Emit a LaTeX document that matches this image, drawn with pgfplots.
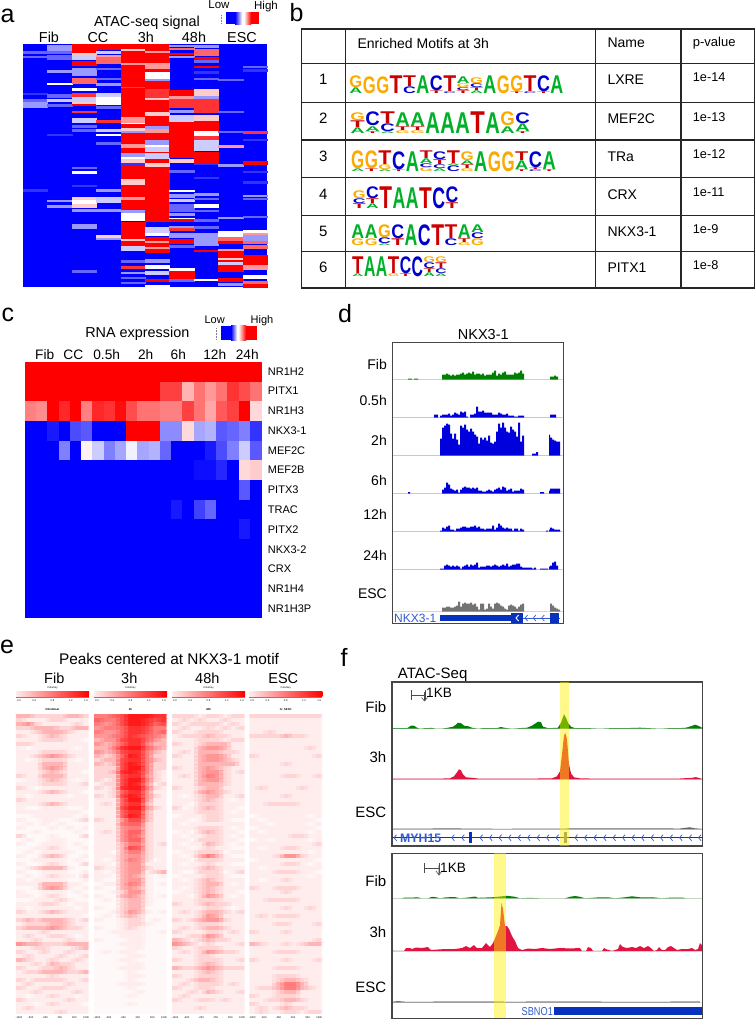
\documentclass[border=0pt]{standalone}
\usepackage{graphicx}
\usepackage{fontspec}
\setmainfont{Liberation Sans}
\usepackage{pgfplots}
\usepackage{pgfplotstable}
\pgfplotsset{compat=1.18}
\definecolor{colA}{RGB}{0,176,40}
\definecolor{colC}{RGB}{0,0,205}
\definecolor{colG}{RGB}{250,170,0}
\definecolor{colT}{RGB}{205,0,0}
\definecolor{genelbl}{RGB}{50,90,205}
\definecolor{genebar}{RGB}{8,50,190}
\definecolor{frame}{RGB}{70,70,70}
\definecolor{trackred}{RGB}{225,20,65}
\definecolor{trackgreen}{RGB}{0,128,0}
\definecolor{trackblue}{RGB}{0,0,220}
\pgfdeclareplotmark{cell}{\pgfpathrectangle{\pgfpoint{-\cw pt}{-\ch pt}}{\pgfpoint{2*\cw pt}{2*\ch pt}}\pgfusepathqfillstroke}
\pgfdeclareplotmark{chev}{\pgfpathmoveto{\pgfpoint{2.6pt}{3pt}}\pgfpathlineto{\pgfpoint{0pt}{0pt}}\pgfpathlineto{\pgfpoint{2.6pt}{-3pt}}\pgfusepathqstroke}
\pgfplotsset{
 colormap={bwr}{rgb255=(0,0,255) rgb255=(255,255,255) rgb255=(255,0,0)},
 colormap={wr}{rgb255(0)=(255,248,248) rgb255(1)=(255,236,236) rgb255(2)=(255,212,212) rgb255(4)=(255,150,150) rgb255(10)=(255,0,0)},
 pane/.style n args={4}{x=1pt,y=1pt,xmin=#1,xmax=#2,ymin=#3,ymax=#4,y dir=reverse,anchor=north west,at={(#1pt,-#3pt)},ticks=none},
 noframe/.style={axis line style={draw=none}},
 cellplot/.style 2 args={scatter,only marks,mark=cell,point meta=explicit,forget plot,
   visualization depends on={value #1 \as \cw},visualization depends on={value #2 \as \ch},
   scatter/use mapped color={draw=mapped color,fill=mapped color,line width=0.12pt}},
 softcell/.style={scatter/use mapped color={draw=mapped color,fill=mapped color,line width=0.1pt,opacity=.5}},
}
\newcommand{\Tx}[5][center]{\node[inner sep=0pt,anchor=#1,text depth=0pt,font=\fontsize{#4}{#4}\selectfont] at (#2pt,-#3pt) {#5};}
\newcommand{\TrackAxis}[6]{%
 \begin{axis}[x=1pt,y=1pt,xmin=#1,xmax=#2,ymin=0,ymax=#4,anchor=south west,at={(#1pt,-#3pt)},hide axis]
 \addplot[gray!22,line width=1.2pt,forget plot] coordinates {(#1,0)(#2,0)};
 \addplot[#5,draw=none,forget plot] #6 \closedcycle;
 \end{axis}}
\newcommand{\Logo}[4]{%
 \foreach \col [count=\ci from 0] in {#4}{%
  \gdef\stk{0}%
  \foreach \ltr/\hgt in \col {%
   \pgfmathsetmacro{\xx}{#1+\ci*#3+.25}\pgfmathsetmacro{\yy}{#2-\stk-.15}\pgfmathsetmacro{\ww}{#3-.5}\pgfmathsetmacro{\hh}{\hgt-.3}%
   \node[anchor=south west,inner sep=0pt,text=col\ltr] at (\xx pt,-\yy pt) {\resizebox{\ww pt}{\hh pt}{\bfseries \ltr}};
   \pgfmathsetmacro{\tmp}{\stk+\hgt}\xdef\stk{\tmp}%
  }}}
\newcommand{\EPanel}[2]{%
 \begin{axis}[pane={#1}{#1+73}{713.3}{1013.3},xmax=#1+73,noframe,clip marker paths=true,colormap name=wr,point meta min=0,point meta max=10]
 \pgfplotsinvokeforeach{0,...,8}{\addplot[cellplot={4.06}{1.72}] table[x expr={#1+(##1+.5)*8.11-2},y expr={713.3+(\coordindex+.5)*4},meta index=##1]{#2};}
 \pgfplotsinvokeforeach{0,...,8}{\addplot[cellplot={4.06}{1.72},softcell] table[x expr={#1+(##1+.5)*8.11+2.05},y expr={713.3+(\coordindex+.5)*4},meta index=##1]{#2};}
 \end{axis}
 \shade[left color=red!8,right color=red] (#1pt,-691.7pt) rectangle (#1pt+73pt,-696.3pt);
 \draw[gray,line width=.3pt] (#1pt,-697pt) -- (#1pt+73pt,-697pt);
 \foreach \k/\lab in {3/0.0,18.25/0.4,36.5/0.8,54.75/1.2,70/1.6}{\node[inner sep=0pt,font=\fontsize{2.6}{2.6}\selectfont] at (#1pt+\k pt,-700.7pt) {\lab};}
 \foreach \k/\lab in {3/-1000,14.6/-500,29.2/-250,43.8/250,58.4/500,70/1000}{\node[inner sep=0pt,font=\fontsize{2.6}{2.6}\selectfont] at (#1pt+\k pt,-1017.5pt) {\lab};}
 \node[inner sep=0pt,font=\fontsize{2.6}{2.6}\selectfont] at (#1pt+36.5pt,-688pt) {Colorkey};}

% ---------- panel a: stripes (column, top, bottom, level) in 1/3 px
\pgfplotstableread{
c y0 y1 v
0 153 158 2
0 168 172 2
0 278 282 1
0 296 302 2
0 305 320 3
0 568 572 1
1 134 150 3
1 154 160 2
1 165 178 2
1 210 215 3
1 248 253 5
1 283 292 2
1 297 303 4
1 312 318 2
1 402 405 1
1 600 604 3
1 616 621 3
2 132 155 10
2 158 165 6
2 165 178 4
2 184 196 10
2 205 225 3
2 233 248 8
2 263 269 5
2 278 288 9
2 290 305 4
2 305 311 6
2 311 316 10
2 332 336 9
2 355 366 4
2 376 380 2
2 388 392 2
2 500 504 2
2 514 520 5
2 556 559 1
2 590 600 6
2 600 612 5
2 612 620 6
2 626 632 3
2 672 683 3
2 810 815 2
3 132 148 10
3 152 158 4
3 165 172 7
3 172 190 8
3 204 208 2
3 234 238 2
3 248 254 3
3 278 290 4
3 290 312 5
3 318 325 2
3 361 365 9
3 386 392 4
3 402 406 5
3 427 431 2
3 568 572 3
3 590 605 4
3 626 632 3
3 705 710 6
3 714 717 3
4 132 262 10
4 147 151 6
4 188 193 7
4 260 265 2
4 265 350 10
4 350 370 7
4 370 373 5
4 373 385 10
4 385 392 6
4 392 400 3
4 400 458 10
4 432 440 7
4 458 470 3
4 470 478 5
4 478 490 6
4 490 494 1
4 494 540 10
4 538 555 6
4 555 630 10
4 592 597 7
4 630 640 3
4 640 660 5
4 665 716 10
4 716 722 6
4 722 738 10
4 738 750 4
4 781 785 2
4 797 803 9
4 815 820 3
4 830 834 2
4 845 849 2
5 132 152 10
5 154 158 7
5 158 190 10
5 190 207 7
5 207 215 10
5 215 235 5
5 236 244 3
5 244 268 10
5 268 295 9
5 295 300 6
5 300 335 10
5 337 347 6
5 347 378 10
5 378 386 3
5 388 400 7
5 400 420 10
5 420 436 3
5 436 442 5
5 442 456 4
5 456 460 10
5 460 478 4
5 478 488 10
5 488 500 6
5 500 664 10
5 680 696 4
5 698 704 5
5 710 755 10
5 722 726 7
5 740 744 7
5 778 786 3
5 796 804 5
5 812 822 4
5 838 844 10
5 856 860 5
6 134 137 3
6 144 148 8
6 158 163 10
6 168 172 3
6 270 286 10
6 288 296 7
6 296 322 9
6 330 336 3
6 344 362 4
6 366 398 10
6 402 470 10
6 476 486 6
6 510 516 2
6 569 573 5
6 582 590 3
6 597 604 4
6 612 632 2
6 638 644 3
6 654 658 5
6 658 664 10
6 678 684 3
6 685 690 9
6 700 712 3
6 718 728 10
6 735 740 2
6 805 812 5
6 814 836 10
6 838 842 2
7 136 140 3
7 146 166 8
7 171 176 10
7 180 186 2
7 197 201 10
7 214 218 1
7 234 238 2
7 268 286 6
7 288 294 3
7 298 335 9
7 344 362 6
7 364 394 10
7 394 406 5
7 408 418 9
7 420 450 4
7 456 486 10
7 488 492 1
7 530 534 1
7 580 586 3
7 594 598 2
7 612 620 5
7 630 634 2
7 658 663 2
7 678 684 2
7 700 735 3
7 750 754 10
7 836 841 5
8 238 241 2
8 332 335 2
8 394 397 2
8 436 441 7
8 492 497 3
8 650 653 3
8 694 708 5
8 710 724 8
8 724 730 10
8 746 752 7
8 754 774 10
8 774 780 6
8 780 786 10
8 786 794 4
8 794 812 10
8 834 842 10
8 850 856 3
9 197 200 2
9 208 212 1
9 392 400 9
9 416 419 1
9 484 491 10
9 514 517 1
9 544 548 1
9 584 588 3
9 595 598 2
9 648 652 2
9 690 698 5
9 698 704 7
9 704 720 3
9 722 730 8
9 736 744 8
9 764 796 10
9 796 808 7
9 826 834 5
9 842 850 8
9 852 860 10
}\atab

% ---------- panel c: 13 genes x 21 samples, -1 blue .. 1 red
\pgfplotstableread[header=false]{
1 1 1 1 1 1 1 1 1 1 1 1 1 1 1 1 1 1 1 1 1
1 1 1 1 1 1 1 1 1 1 1 1 .75 .75 .3 .55 .4 .55 .8 .7 .55
.5 .45 1 .85 1 .5 .85 .8 .95 .7 .55 .55 .5 .5 .75 .55 .35 .65 .75 1 .15
-1 -1 -.9 -1 -.7 -.65 -1 -1 -1 1 1 1 -.45 -.45 .15 -.35 -.3 -.65 -.6 -.5 -.8
-1 -1 -1 -.5 -1 .05 -.2 -.5 -.35 -.05 -.35 -.3 -.6 -1 -1 -1 -.9 -.7 -.5 -.2 -.65
-1 -1 -1 -1 -1 -1 -1 -1 -1 -1 -1 -1 -1 -1 -1 -.95 -.95 -.85 -1 .15 .2
-1 -1 -1 -1 -1 -1 -1 -1 -1 -1 -1 -1 -1 -1 -1 -1 -1 -1 -1 -.65 -1
-1 -1 -1 -1 -1 -1 -1 -1 -1 -1 -1 -1 -1 -.9 -1 -.75 -.6 -1 -1 -1 -1
-1 -1 -1 -1 -1 -1 -1 -1 -1 -1 -1 -1 -1 -1 -1 -1 -1 -1 -1 -.9 -1
-1 -1 -1 -1 -1 -1 -1 -1 -1 -1 -1 -1 -1 -1 -1 -1 -1 -1 -1 -1 -1
-1 -1 -1 -1 -1 -1 -1 -1 -1 -1 -1 -1 -1 -1 -1 -1 -1 -1 -1 -1 -1
-1 -1 -1 -1 -1 -1 -1 -1 -1 -1 -1 -1 -1 -1 -1 -1 -1 -1 -1 -1 -1
-1 -1 -1 -1 -1 -1 -1 -1 -1 -1 -1 -1 -1 -1 -1 -1 -1 -1 -1 -1 -1
}\ctab

% ---------- panel d: signal heights per track
\pgfplotstableread{
x fib h05 h2 h6 h12 h24 esc
392 0 0 0 0 0 0 0
406 0 0 0 0 0 0 0
408 1 0 0 1.5 0 0 0
410 1 0 0 0 0 0 0
412 0 0 0 0 0 0 0
414 1 0 0 0 0 0 0
416 1 0 0 0 0 0 0
418 0 0 0 0 0 0 0
434 0 3 0 0 0 0 0
436 0 3 0 0 0 0 0
438 0 0 0 0 0 0 0
440 0 2 17 0 1 1 0
442 5 3 28 4 4 1 4
444 5 3 30 6 3 4 4
446 6 3 32 11 5 5 5
448 5 4 31 9 6 4 5
450 4 2 22 5 2 3 4
452 5 3 17 4 2 4 4
454 4 5 22 3 1 3 5
456 5 4 16 4 3 4 6
458 5 3 11 1 3 3 10
460 6 6 30 4 4 1 5
462 7 5 28 6 5 3 8
464 5 6 31 7 5 4 9
466 6 1 26 6 4 5 8
468 7 0 24 6 4 3 8
470 6 3 27 5 5 5 9
472 8 3 24 6 5 4 7
474 5 4 21 5 6 5 8
476 6 11 19 6 4 7 5
478 6 6 12 3 5 2 2
480 5 6 18 3 3 3 8
482 6 7 16 2 3 3 8
484 4 5 18 2 2 3 2
486 5 5 15 3 3 4 3
488 5 5 20 4 3 4 8
490 5 5 13 3 3 3 5
492 7 3 12 2 6 4 3
494 9 3 14 4 2 5 8
496 4 3 24 5 4 4 9
498 6 5 32 6 8 3 8
500 5 4 28 4 6 4 6
502 7 3 33 7 4 5 5
504 8 3 28 6 3 4 3
506 5 4 24 3 4 6 2
508 5 2 23 4 3 3 6
510 5 2 29 5 3 4 7
512 5 2 26 2 1 5 6
514 7 1 24 3 3 5 5
516 6 1 19 3 3 6 3
518 7 2 33 3 1 6 5
520 9 2 14 5 3 3 7
522 6 2 20 4 2 2 8
524 0 0 0 0 0 2 0
530 0 0 0 0 0 2 0
532 0 0 2 0 0 1 0
534 0 0 2 0 0 2 0
536 0 0 3.5 0 0 0 0
538 0 0 0 0 0 0 0
540 0 0 0 1.5 0 1 0
544 0 0 0 0 0 1 0
546 0 0 0 0 1 1 0
548 0 0 0 0 0 0 0
549 0 0 21 3 2 3 0
550 3 3 18 5 4 4 8
552 3 3 16 5 3 7 6
554 4 3 15 5 2 8 4
556 3 0 14 5 2 4 3
558 0 0 14 5 2 0 2
560 0 0 0 0 0 0 0
562 0 0 0 0 0 0 0
}\dtab

% ---------- panel e: 75 rows x 9 bins, level 0 white .. 10 red
\pgfplotstableread[header=false]{
3 3 2 2 2 2 3 3 2
2 1 1 1 2 2 1 1 1
3 4 2 1 1 1 1 2 1
2 2 3 3 3 2 2 3 3
1 1 2 3 3 3 2 1 1
2 1 1 2 3 2 1 1 1
1 1 1 2 2 2 1 1 0
2 2 1 1 1 1 1 1 1
1 0 1 1 1 1 1 0 1
1 1 1 2 2 2 1 1 1
1 1 2 3 4 3 2 1 1
1 0 1 2 2 2 1 0 1
1 1 1 3 3 3 1 1 1
1 1 1 3 4 3 1 1 1
1 1 1 2 3 2 1 1 0
2 1 1 3 3 3 1 1 1
0 1 1 2 3 2 1 0 1
1 1 1 2 2 2 1 1 2
2 1 0 1 1 1 1 1 1
1 1 1 2 3 2 1 1 0
1 0 1 1 1 1 0 1 1
2 1 1 1 1 1 1 1 1
1 1 1 2 3 2 1 1 1
1 0 0 1 1 1 0 0 1
1 1 1 1 1 1 1 1 0
0 0 1 1 1 1 1 0 1
1 0 0 1 1 0 0 1 2
0 1 0 1 0 1 0 0 0
1 0 0 0 1 0 1 0 1
0 0 1 0 0 0 0 1 0
2 0 0 0 1 0 0 0 2
0 1 0 0 1 1 0 0 0
1 0 0 1 1 1 0 1 0
0 0 1 1 2 1 0 0 1
0 1 0 1 1 1 1 0 0
1 0 0 2 3 2 0 0 1
0 0 1 1 1 1 0 1 0
1 0 0 1 2 1 0 0 2
0 1 2 3 3 3 1 0 0
1 0 0 1 1 1 0 0 1
0 1 0 1 2 1 1 0 2
1 0 1 1 1 1 0 0 1
1 1 1 3 3 3 1 1 0
0 0 1 3 4 3 1 0 1
1 0 0 1 1 1 0 1 0
1 1 0 1 2 1 0 0 1
0 0 1 1 1 2 1 0 0
1 1 1 2 2 1 0 1 1
1 0 1 1 1 1 1 0 1
2 1 1 2 3 2 1 1 1
1 1 1 1 1 1 1 1 0
2 3 2 3 3 3 2 1 2
1 2 2 2 3 3 2 1 1
2 3 3 3 4 3 2 2 1
1 1 1 2 1 1 1 1 1
1 2 1 1 2 2 1 0 1
1 1 2 1 1 1 2 1 1
4 3 3 2 2 2 3 3 3
1 1 2 2 1 1 1 2 3
2 1 1 2 1 1 2 1 1
1 2 1 1 1 2 1 1 2
3 2 1 1 2 1 1 2 1
1 1 2 1 3 2 2 1 1
2 1 1 2 2 3 2 1 1
1 2 2 3 3 3 2 2 3
1 1 1 1 2 1 1 1 1
2 1 2 2 2 2 1 1 2
1 2 1 1 1 1 2 1 1
2 1 1 2 2 2 1 1 1
1 1 2 1 1 1 1 2 1
1 0 1 1 2 1 1 0 1
2 1 1 1 1 1 2 1 1
1 1 0 1 2 1 1 1 0
1 2 1 1 1 1 1 1 1
1 1 1 1 1 2 1 1 1
}\etabA
\pgfplotstableread[header=false]{
5 5 6 7 9 9 9 8 8
6 5 5 7 9 9 8 7 8
5 4 5 7 9 9 8 6 7
4 5 5 6 8 8 7 5 5
5 4 4 6 8 8 7 5 6
4 4 5 6 8 7 6 5 4
3 4 4 7 8 8 6 4 3
4 3 4 6 8 8 5 3 3
3 3 5 8 9 9 6 4 3
4 3 4 7 8 8 5 3 2
3 2 3 6 9 8 5 2 2
2 3 3 7 8 8 5 3 2
3 2 3 7 9 8 5 2 2
2 2 2 7 9 9 5 2 2
2 2 3 8 9 8 5 2 1
2 2 2 7 8 8 4 2 1
2 1 2 7 9 9 5 2 1
1 2 2 7 9 8 4 1 2
2 1 2 8 9 9 5 2 1
1 1 2 6 8 8 4 1 1
2 1 2 7 9 8 4 2 1
1 1 1 6 9 9 4 1 1
1 2 1 6 8 8 3 1 1
1 1 1 7 9 9 4 2 1
1 1 1 6 8 8 3 1 1
1 1 1 6 9 8 3 1 1
2 1 1 4 7 7 3 1 1
1 1 1 5 6 6 2 1 1
1 1 1 4 5 5 2 1 1
1 2 1 4 6 6 2 1 1
1 1 1 4 6 5 2 1 1
1 1 1 4 6 6 2 1 1
1 1 1 3 5 5 2 1 2
1 1 1 3 7 6 2 1 1
1 1 0 3 5 5 2 1 1
1 1 1 3 4 4 2 1 1
1 0 1 3 5 4 2 0 1
1 1 0 3 4 4 1 1 1
2 1 1 3 4 4 2 1 1
1 0 1 3 4 4 1 2 3
1 1 0 3 4 3 1 0 1
1 0 0 3 4 4 1 0 0
0 1 1 3 5 4 1 0 1
1 0 0 3 4 3 1 0 0
0 0 1 2 4 4 1 0 0
1 0 0 3 4 3 1 0 1
0 1 0 2 3 3 1 0 0
0 0 0 2 3 3 1 0 0
1 0 0 2 3 3 0 0 0
0 0 1 2 4 3 1 0 1
0 1 0 2 3 2 0 0 0
1 0 0 1 2 2 0 1 0
0 0 0 1 2 2 1 0 0
1 0 0 1 2 1 0 0 0
0 0 1 1 1 1 0 0 1
0 0 0 1 1 1 0 0 0
1 0 0 0 1 1 0 0 0
0 0 0 1 1 1 0 0 0
0 0 0 0 1 1 0 0 0
0 1 0 1 1 0 0 0 0
0 0 0 0 1 1 0 0 0
0 0 0 1 1 0 0 0 0
0 0 0 0 1 1 0 0 0
0 0 0 1 1 1 0 0 0
0 0 0 0 1 0 0 0 0
0 0 0 0 1 1 0 0 0
0 0 0 0 1 0 0 0 0
0 0 0 1 1 1 0 0 0
0 0 0 0 1 0 0 0 0
0 0 0 0 0 1 0 0 0
0 0 0 0 1 0 0 0 0
0 0 0 0 0 0 0 0 0
0 0 0 0 1 0 0 0 0
0 0 0 0 0 0 0 0 0
0 0 0 0 0 0 0 0 0
}\etabB
\pgfplotstableread[header=false]{
2 2 2 1 2 2 1 2 2
1 2 1 2 1 1 2 1 1
2 1 2 2 2 2 1 2 1
1 2 1 1 2 1 2 1 2
2 1 1 2 2 2 1 1 1
1 2 2 2 3 2 2 1 1
1 1 1 2 2 2 1 2 2
2 1 1 2 3 3 3 1 1
1 1 1 3 4 4 3 1 1
1 2 1 3 3 3 2 2 1
2 1 1 3 4 4 3 1 1
1 1 1 3 4 4 3 2 1
1 1 1 3 3 3 3 3 1
2 1 1 3 4 3 2 1 1
1 1 1 3 4 4 2 1 2
1 2 1 3 5 4 2 1 1
1 1 1 3 4 4 2 1 1
1 1 1 3 3 3 2 1 1
2 1 1 2 3 3 1 1 1
1 1 1 3 4 3 2 1 1
1 0 1 2 3 3 1 1 2
1 1 1 2 3 2 1 0 1
1 1 0 2 2 2 1 1 1
2 0 1 2 3 2 1 1 0
1 1 1 2 2 2 1 0 1
0 1 1 1 2 2 1 1 1
1 1 0 1 2 2 1 0 0
1 0 1 1 1 1 1 1 1
1 1 1 2 2 2 1 0 1
0 1 0 2 3 2 1 1 0
1 0 1 1 2 2 1 0 1
1 1 0 2 2 2 1 1 0
1 0 1 1 3 2 1 0 1
1 1 0 1 2 1 1 0 0
0 1 1 2 2 2 0 1 1
1 0 1 3 5 3 1 0 0
1 1 0 2 2 2 1 1 1
1 0 1 1 2 1 1 0 0
1 1 1 2 3 2 1 1 1
1 0 0 2 2 2 0 1 2
0 1 1 1 2 2 1 0 0
1 0 1 2 3 2 1 1 1
1 1 1 2 3 3 1 0 1
1 0 1 2 3 2 1 1 1
0 1 1 2 3 2 1 1 0
1 1 0 2 4 3 1 0 1
1 1 1 2 2 2 1 1 1
2 1 1 2 3 2 2 1 1
1 1 1 1 2 2 1 0 1
1 2 1 2 3 3 2 1 2
1 1 1 2 4 3 1 1 1
2 1 2 3 4 4 2 1 1
1 1 1 2 2 2 1 1 1
1 2 1 2 3 3 2 1 1
2 1 1 1 2 2 1 2 1
1 1 2 2 4 3 1 1 1
3 2 1 2 3 2 2 1 1
4 3 2 1 2 1 1 1 2
2 1 1 2 2 2 1 1 1
1 2 1 2 4 3 2 2 1
1 1 1 2 2 1 1 1 1
2 1 1 2 2 2 1 1 2
1 1 1 2 3 2 1 1 1
3 2 2 3 4 3 2 2 2
1 1 1 2 3 2 1 1 1
2 1 1 2 2 2 1 1 1
1 1 2 3 3 2 1 1 1
1 2 1 2 2 2 1 2 1
2 1 1 2 2 1 1 1 1
1 1 2 1 3 2 1 1 2
1 2 1 1 1 1 1 1 1
2 1 1 2 2 1 2 1 1
1 1 1 1 1 1 1 1 1
1 1 1 2 1 1 1 1 1
1 1 1 1 1 1 1 1 1
}\etabC
\pgfplotstableread[header=false]{
2 2 2 2 2 2 2 2 2
1 1 1 1 1 1 1 1 1
1 1 1 1 1 1 1 1 1
1 1 1 1 1 1 1 1 1
1 1 2 1 1 1 1 1 1
2 2 2 2 3 2 2 1 1
1 1 1 1 1 1 1 1 1
1 1 1 1 1 1 1 1 1
1 1 1 1 1 1 1 2 1
1 1 1 1 1 1 1 1 1
2 1 1 1 1 1 1 1 2
1 1 1 1 1 1 1 1 1
1 1 1 1 2 1 1 1 1
1 1 1 1 1 1 1 1 1
1 1 1 1 1 1 1 1 1
1 1 1 1 2 2 1 1 2
1 1 1 1 1 1 1 1 1
1 1 1 1 1 1 1 1 1
1 2 1 1 1 1 2 1 1
1 1 1 1 1 1 1 1 1
1 1 1 1 2 1 1 1 1
1 1 1 1 1 1 1 1 1
1 1 2 2 2 2 1 1 1
1 1 1 1 1 1 1 1 1
1 1 1 1 1 1 1 1 1
0 1 1 1 1 1 1 0 1
1 0 1 1 1 1 1 1 0
1 1 0 1 1 1 1 0 1
0 1 1 1 1 1 1 1 0
1 0 1 1 1 1 1 0 1
1 1 1 1 1 2 2 1 1
0 1 0 1 1 1 1 0 1
1 1 1 1 1 1 1 1 2
1 0 1 1 2 2 1 1 1
1 1 1 1 1 1 1 0 1
1 1 1 2 4 4 2 1 1
0 1 1 1 1 1 1 1 0
1 1 1 1 2 2 1 0 1
1 0 1 1 1 1 1 1 1
1 1 1 2 2 2 1 1 0
1 1 1 1 1 1 1 0 1
1 0 1 1 2 1 1 1 1
1 1 1 1 1 1 1 1 1
2 1 1 2 2 2 1 1 1
1 1 1 1 2 1 1 1 1
1 1 1 1 1 1 1 1 1
1 1 2 2 2 2 1 1 1
1 1 1 1 1 1 1 1 1
1 1 1 1 2 1 1 2 1
1 1 1 1 1 1 1 1 1
1 2 1 2 2 2 1 1 1
1 1 1 1 1 1 1 1 1
1 1 1 2 2 1 1 1 2
1 1 1 1 1 1 1 1 1
2 1 1 1 2 1 1 1 1
1 1 1 1 1 1 1 1 1
1 1 1 1 1 1 1 1 2
3 2 1 1 2 1 2 3 3
1 1 1 1 1 1 1 1 1
1 1 1 2 2 2 1 1 1
1 1 1 1 1 1 1 1 1
2 1 1 1 2 1 1 1 2
1 1 1 1 1 1 1 1 1
1 1 1 2 2 2 1 1 1
1 1 1 1 1 1 1 1 1
1 1 1 2 2 2 1 1 1
1 1 1 2 3 3 2 1 1
1 1 1 3 5 5 3 1 1
1 2 2 3 5 5 3 2 1
1 1 1 2 3 3 1 1 1
2 1 1 2 2 2 1 1 1
1 1 2 2 3 3 2 1 1
2 1 1 1 2 1 1 1 1
1 2 1 2 3 2 2 1 1
1 2 1 1 2 2 1 2 2
}\etabD

\begin{document}
\begin{tikzpicture}
\useasboundingbox (0,0) rectangle (755pt,-1020pt);
% ===== a
\begin{axis}[pane={23}{267}{44}{287},noframe,axis background/.style={fill=blue},colormap name=bwr,point meta min=0,point meta max=10]
\addplot[scatter,only marks,mark=cell,point meta=explicit,forget plot,
  visualization depends on={value 12.2 \as \cw},
  visualization depends on={(\thisrow{y1}-\thisrow{y0})/6 \as \ch},
  scatter/use mapped color={draw=mapped color,fill=mapped color,line width=0.1pt}]
  table[x expr={23+(\thisrow{c}+.5)*24.4},y expr={(\thisrow{y0}+\thisrow{y1})/6},meta=v]{\atab};
\end{axis}
\Tx{7.5}{16}{25}{a}
\Tx{147}{21}{14.4}{ATAC-seq signal}
\Tx{49}{37.5}{14.4}{Fib}\Tx{98}{37.5}{14.4}{CC}\Tx{146}{37.5}{14.4}{3h}\Tx{194}{37.5}{14.4}{48h}\Tx{242}{37.5}{14.4}{ESC}
\Tx{219}{5}{11.5}{Low}\Tx{266}{5}{11.5}{High}
\fill[blue] (226pt,-12pt) rectangle (235pt,-24pt);
\shade[left color=blue,right color=white] (235pt,-12pt) rectangle (242pt,-24pt);
\fill[white] (242pt,-12pt) rectangle (244pt,-24pt);
\shade[left color=white,right color=red] (244pt,-12pt) rectangle (251pt,-24pt);
\fill[red] (251pt,-12pt) rectangle (258.5pt,-24pt);
\draw[gray,densely dotted,line width=.5pt] (221pt,-15pt) -- (221pt,-24pt);
% ===== b
\Tx{296.5}{12}{25}{b}
\draw[black!85,line width=1.1pt] (301.7pt,-29pt) rectangle (754.3pt,-288pt);
\foreach \yy in {63.3,102.7,140,177.7,215.3,251.7}{\draw[black!85,line width=1.1pt] (301.7pt,-\yy pt) -- (754.3pt,-\yy pt);}
\foreach \xx in {345.7,595.3,681}{\draw[black!85,line width=1.1pt] (\xx pt,-29pt) -- (\xx pt,-288pt);}
\Tx[west]{357.3}{43}{14}{Enriched Motifs at 3h}\Tx[west]{607.3}{43}{14}{Name}\Tx[west]{692.7}{42}{13}{p-value}
\foreach \n/\yn/\nm/\pv/\yv in {1/79/LXRE/1e-14/77.5,2/118/MEF2C/1e-13/116.7,3/156/TRa/1e-12/154,4/194/CRX/1e-11/191.7,5/231/NKX3-1/1e-9/229,6/267/PITX1/1e-8/265.5}{
 \Tx{323.3}{\yn}{15}{\n}\Tx[west]{607.3}{\yn-1}{14}{\nm}\Tx[west]{692.7}{\yv}{12.7}{\pv}}
\Logo{349}{94.3}{13.4}{{A/6,G/12},{G/17},{G/17},{T/18},{C/7,T/11},{A/18},{T/3,C/15},{C/2,T/16},{T/3,C/3,G/4,A/7},{A/3,T/3,C/4,G/6},{A/18},{G/18},{T/2,G/16},{C/2,T/16},{T/2,C/16},{A/18}}
\Logo{350}{133.5}{15}{{A/6,T/7,G/8},{T/2,A/5,C/14},{A/2,C/8,T/12},{G/3,T/4,A/14},{G/3,T/4,A/14},{A/21},{A/21},{A/21},{T/22},{A/21},{A/7,G/14},{T/2,A/8,C/11}}
\Logo{350.7}{172}{13.67}{{A/3,G/18},{T/3,G/18},{A/2,G/5,T/14},{T/2,C/18},{A/20},{G/4,C/4,A/5,T/8},{A/3,C/4,T/5,C/8},{C/6,A/2,T/13},{G/3,T/4,A/4,G/9},{A/20},{G/20},{G/20},{T/2,A/9,T/9},{C/2,T/2,C/16},{T/2,A/18}}
\Logo{352.3}{209.3}{13.25}{{T/5,C/5,G/8},{A/5,T/5,C/12},{T/22},{A/21},{A/21},{T/21},{C/21},{T/6,C/16}}
\Logo{351}{245.7}{13.3}{{G/7,A/14},{G/7,A/14},{A/2,C/6,G/13},{T/7,C/14},{A/21},{C/21},{T/21},{C/7,T/14},{G/3,T/4,A/14},{G/7,C/6,A/8}}
\Logo{351.7}{277.3}{11.9}{{A/3,T/17},{A/20},{A/20},{G/3,T/17},{T/3,C/17},{C/20},{A/4,T/4,C/6,G/6},{A/3,C/5,T/6,G/6}}
% ===== c
\begin{axis}[pane={25}{261}{362.3}{617.3},noframe,axis background/.style={fill=blue},colormap name=bwr,point meta min=-1,point meta max=1]
\pgfplotsinvokeforeach{0,...,20}{\addplot[cellplot={5.62}{9.81}] table[x expr={25+(#1+.5)*11.24},y expr={362.3+(\coordindex+.5)*19.615},meta index=#1]{\ctab};}
\end{axis}
\Tx{8}{315}{25}{c}
\Tx{137.3}{332.7}{14.4}{RNA expression}
\Tx{214.7}{320}{11}{Low}\Tx{262}{320}{11}{High}
\fill[blue] (221pt,-325.7pt) rectangle (231pt,-340pt);
\shade[left color=blue,right color=white] (231pt,-325.7pt) rectangle (237pt,-340pt);
\fill[white] (237pt,-325.7pt) rectangle (238.5pt,-340pt);
\shade[left color=white,right color=red] (238.5pt,-325.7pt) rectangle (246pt,-340pt);
\fill[red] (246pt,-325.7pt) rectangle (256.7pt,-340pt);
\draw[gray,densely dotted,line width=.5pt] (216pt,-328pt) -- (216pt,-340pt);
\foreach \t/\xx in {Fib/44.7,CC/73.3,0.5h/106.7,2h/145.7,6h/178.3,12h/214.7,24h/247.3}{\Tx{\xx}{354.3}{13.7}{\t}}
\foreach \g/\yy in {NR1H2/371.3,PITX1/391,NR1H3/411,NKX3-1/430.7,MEF2C/450.3,MEF2B/470,PITX3/490,TRAC/510,PITX2/529.7,NKX3-2/549.3,CRX/569,NR1H4/588.7,NR1H3P/608.3}{\Tx[west]{267.7}{\yy}{11}{\g}}
% ===== d
\Tx{345}{313}{25}{d}
\Tx{483.3}{334}{14.5}{NKX3-1}
\foreach \t/\yy in {Fib/364,0.5h/400,2h/440,6h/480,12h/514,24h/555,ESC/594}{\Tx[east]{387}{\yy}{14}{\t}}
\TrackAxis{392.3}{563.3}{379.7}{12}{trackgreen,fill=trackgreen,const plot}{table[x=x,y=fib]{\dtab}}
\TrackAxis{392.3}{563.3}{417.7}{14}{trackblue,fill=trackblue,const plot}{table[x=x,y=h05]{\dtab}}
\TrackAxis{392.3}{563.3}{455.7}{36}{trackblue,fill=trackblue,const plot}{table[x=x,y=h2]{\dtab}}
\TrackAxis{392.3}{563.3}{493.7}{14}{trackblue,fill=trackblue,const plot}{table[x=x,y=h6]{\dtab}}
\TrackAxis{392.3}{563.3}{531.7}{14}{trackblue,fill=trackblue,const plot}{table[x=x,y=h12]{\dtab}}
\TrackAxis{392.3}{563.3}{569.7}{14}{trackblue,fill=trackblue,const plot}{table[x=x,y=h24]{\dtab}}
\TrackAxis{392.3}{563.3}{611.7}{14}{gray!90!black,fill=gray!90!black,const plot}{table[x=x,y=esc]{\dtab}}
\begin{axis}[pane={392.3}{563.3}{342.3}{623.3},axis line style={draw=frame,line width=1.2pt}]
\addplot[genelbl,line width=.6pt,forget plot] coordinates {(523,618)(560,618)};
\addplot[genebar,line width=6pt,forget plot] coordinates {(440,618)(511,618)};
\addplot[genebar,line width=10pt,forget plot] coordinates {(511,618)(522.5,618)};
\addplot[genebar,line width=10pt,forget plot] coordinates {(550,618)(559,618)};
\addplot[only marks,mark=chev,white,line width=.9pt,forget plot] coordinates {(516,618)};
\addplot[only marks,mark=chev,genelbl,line width=.7pt,forget plot] coordinates {(525,618)(533.3,618)(541.7,618)};
\end{axis}
\Tx[west]{394}{618.5}{12}{\textcolor{genelbl}{NKX3-1}}
% ===== e
\Tx{7}{647}{25}{e}
\Tx{169}{659.3}{15.4}{Peaks centered at NKX3-1 motif}
\foreach \t/\xx in {Fib/54.3,3h/129.3,48h/207.3,ESC/283.3}{\Tx{\xx}{678.5}{14.5}{\t}}
\EPanel{16}{\etabA}
\EPanel{94}{\etabB}
\EPanel{172}{\etabC}
\EPanel{249.3}{\etabD}
\foreach \t/\xx in {Fibroblast/52.5,3h/130.5,48h/208.5,hr\_hESC/285.8}{\node[inner sep=0pt,font=\fontsize{2.8}{2.8}\selectfont\bfseries] at (\xx pt,-709.3pt) {\t};}
% ===== f
\Tx{344}{657}{25}{f}
\Tx[west]{397.7}{673.3}{15}{ATAC-Seq}
\foreach \t/\yy in {Fib/706.7,3h/757.3,ESC/812.3,Fib/881,3h/932,ESC/987.3}{\Tx[east]{386.5}{\yy}{15}{\t}}
\TrackAxis{392}{702.5}{728.7}{16}{trackgreen,fill=trackgreen}{coordinates {(392,.5)(407,.5)(408,1)(411,3)(414,3)(417,1)(420,0)(425,.6)(432,.8)(436,0)(441,0)(447,.8)(453,2)(456,4)(458,6)(461,5.5)(464,3)(468,2.5)(472,1)(478,0)(484,.7)(490,.6)(497,.7)(501,1.7)(505,.8)(512,0)(520,.6)(527,1)(532,3)(535,5)(538,7)(541,6.5)(543,2)(548,.6)(553,.7)(558,1)(561,6)(564,14.5)(566,11)(568,6)(571,2)(575,.5)(590,.5)(600,0)(610,.5)(630,.7)(640,1)(650,.5)(660,0)(670,.6)(680,.6)(686,1)(691,2.5)(695,4)(698,3)(702,1)}}
\TrackAxis{392}{702.5}{779.3}{48}{trackred,fill=trackred}{coordinates {(392,.7)(440,.7)(450,1)(454,3)(457,7)(459,10)(461,9)(463,5)(466,2)(472,1.5)(478,.8)(500,.8)(530,.7)(552,1)(557,3)(560,8)(562,25)(564,44)(565.5,46)(567,40)(569,15)(571,6)(574,2)(580,1)(600,.6)(680,.8)(692,1.5)(696,2.2)(700,1)(702,.6)}}
\TrackAxis{392}{702.5}{829.3}{6}{gray!80!black,fill=gray!80!black}{coordinates {(392,.6)(450,.9)(500,.5)(560,.8)(620,.9)(680,.8)(685,1.5)(690,2)(695,1)(702,.5)}}
\begin{axis}[pane={392}{702.7}{682}{846},axis line style={draw=frame,line width=1.1pt}]
\addplot[genebar,line width=1pt,forget plot] coordinates {(392,837.7)(702.7,837.7)};
\addplot[genebar,line width=2.5pt,forget plot] coordinates {(470.7,832)(470.7,843)};
\addplot[only marks,mark=chev,genelbl,line width=.7pt,forget plot] coordinates {(394,837.7)(451.7,837.7)(461.7,837.7)(480,837.7)(489.5,837.7)(499,837.7)(508.5,837.7)(518,837.7)(527.5,837.7)(537,837.7)(546.5,837.7)(556,837.7)(575,837.7)(584.5,837.7)(594,837.7)(603.5,837.7)(613,837.7)(622.5,837.7)(632,837.7)(641.5,837.7)(651,837.7)(660.5,837.7)(670,837.7)(679.5,837.7)(689,837.7)(698.5,837.7)};
\addplot[gray,line width=2.5pt,forget plot] coordinates {(565.3,832)(565.3,843)};
\fill[yellow,opacity=.45] (axis cs:560.3,682) rectangle (axis cs:569.3,846);
\end{axis}
\Tx[west]{400}{838}{12.3}{\textcolor{genelbl}{\bfseries MYH15}}
\TrackAxis{392}{702.5}{898.3}{6}{trackgreen,fill=trackgreen}{coordinates {(392,0)(402,0)(405,.8)(412,.7)(418,1)(421,0)(428,0)(432,1.5)(436,1)(440,0)(446,1)(455,1.2)(460,0)(470,1)(475,1.8)(478,.5)(492,1)(500,1.8)(507,2.5)(515,1.5)(520,0)(530,.5)(540,0)(565,0)(570,1.5)(575,2.3)(580,1.5)(585,0)(600,1)(610,.8)(615,0)(625,1)(632,2)(640,1)(648,1)(655,.8)(662,0)(672,.8)(682,.8)(686,0)(702,0)}}
\TrackAxis{392}{702.5}{951}{50}{trackred,fill=trackred}{coordinates {(392,1)(394,0)(404,0)(406,3)(410,3)(412,2)(416,3.5)(422,3)(428,4)(431,1)(438,1.5)(445,2)(455,2)(462,3)(466,5)(470,3)(474,6)(477,3)(482,3)(486,8)(490,4)(493,8)(496,15)(498,20)(500,26)(501.5,48)(503,42)(505,25)(507,25)(509,22)(512,15)(515,10)(518,3)(522,1)(528,2.5)(535,2)(542,3)(550,2)(560,3)(570,2.5)(580,3)(582,0)(586,0)(588,4)(591,3)(593,0)(602,0)(604,3)(607,1.5)(612,0)(615,1)(618,2)(620,7)(623,4)(627,3)(632,4)(636,3)(640,5)(644,3)(648,5)(651,3)(654,0)(657,1)(659,4)(662,1)(665,1)(668,4)(671,5)(674,3)(677,1)(682,2)(688,2)(692,3)(695,1)(698,2)(700,8)(702,6)}}
\TrackAxis{392}{702.5}{1002.3}{6}{gray!30!black,fill=gray!30!black}{coordinates {(392,.4)(398,1)(405,.5)(450,.6)(480,.8)(510,.5)(560,.7)(620,.5)(700,.6)}}
\begin{axis}[pane={392}{702.7}{853.3}{1018.3},axis line style={draw=frame,line width=1.1pt}]
\addplot[genebar,line width=8.3pt,forget plot] coordinates {(554.3,1010.8)(701.7,1010.8)};
\fill[yellow,opacity=.45] (axis cs:494.3,853.3) rectangle (axis cs:506.3,1018.3);
\end{axis}
\node[inner sep=0pt,anchor=west,font=\fontsize{11.5}{11.5}\selectfont,text=genelbl] at (521.5pt,-1011.7pt) {\scalebox{.8}[1]{SBNO1}};
% scale bars
\draw[gray!60!black,line width=.7pt] (411pt,-690pt) -- (411pt,-700pt) (411pt,-695pt) -- (425pt,-695pt) (425pt,-690pt) -- (425pt,-700pt);
\draw[gray!60!black,line width=.6pt] (424.5pt,-692pt) -- (424.5pt,-701pt) (421.5pt,-697.5pt) -- (424.5pt,-701pt) -- (427.5pt,-697.5pt);
\Tx[west]{426}{692.5}{13.6}{1KB}
\draw[gray!60!black,line width=.7pt] (424.5pt,-863pt) -- (424.5pt,-873pt) (424.5pt,-868pt) -- (439.5pt,-868pt) (439.5pt,-863pt) -- (439.5pt,-873pt);
\draw[gray!60!black,line width=.6pt] (439pt,-865pt) -- (439pt,-875pt) (436pt,-871pt) -- (439pt,-875pt) -- (442pt,-871pt);
\Tx[west]{440}{868}{13.6}{1KB}
\end{tikzpicture}
\end{document}
